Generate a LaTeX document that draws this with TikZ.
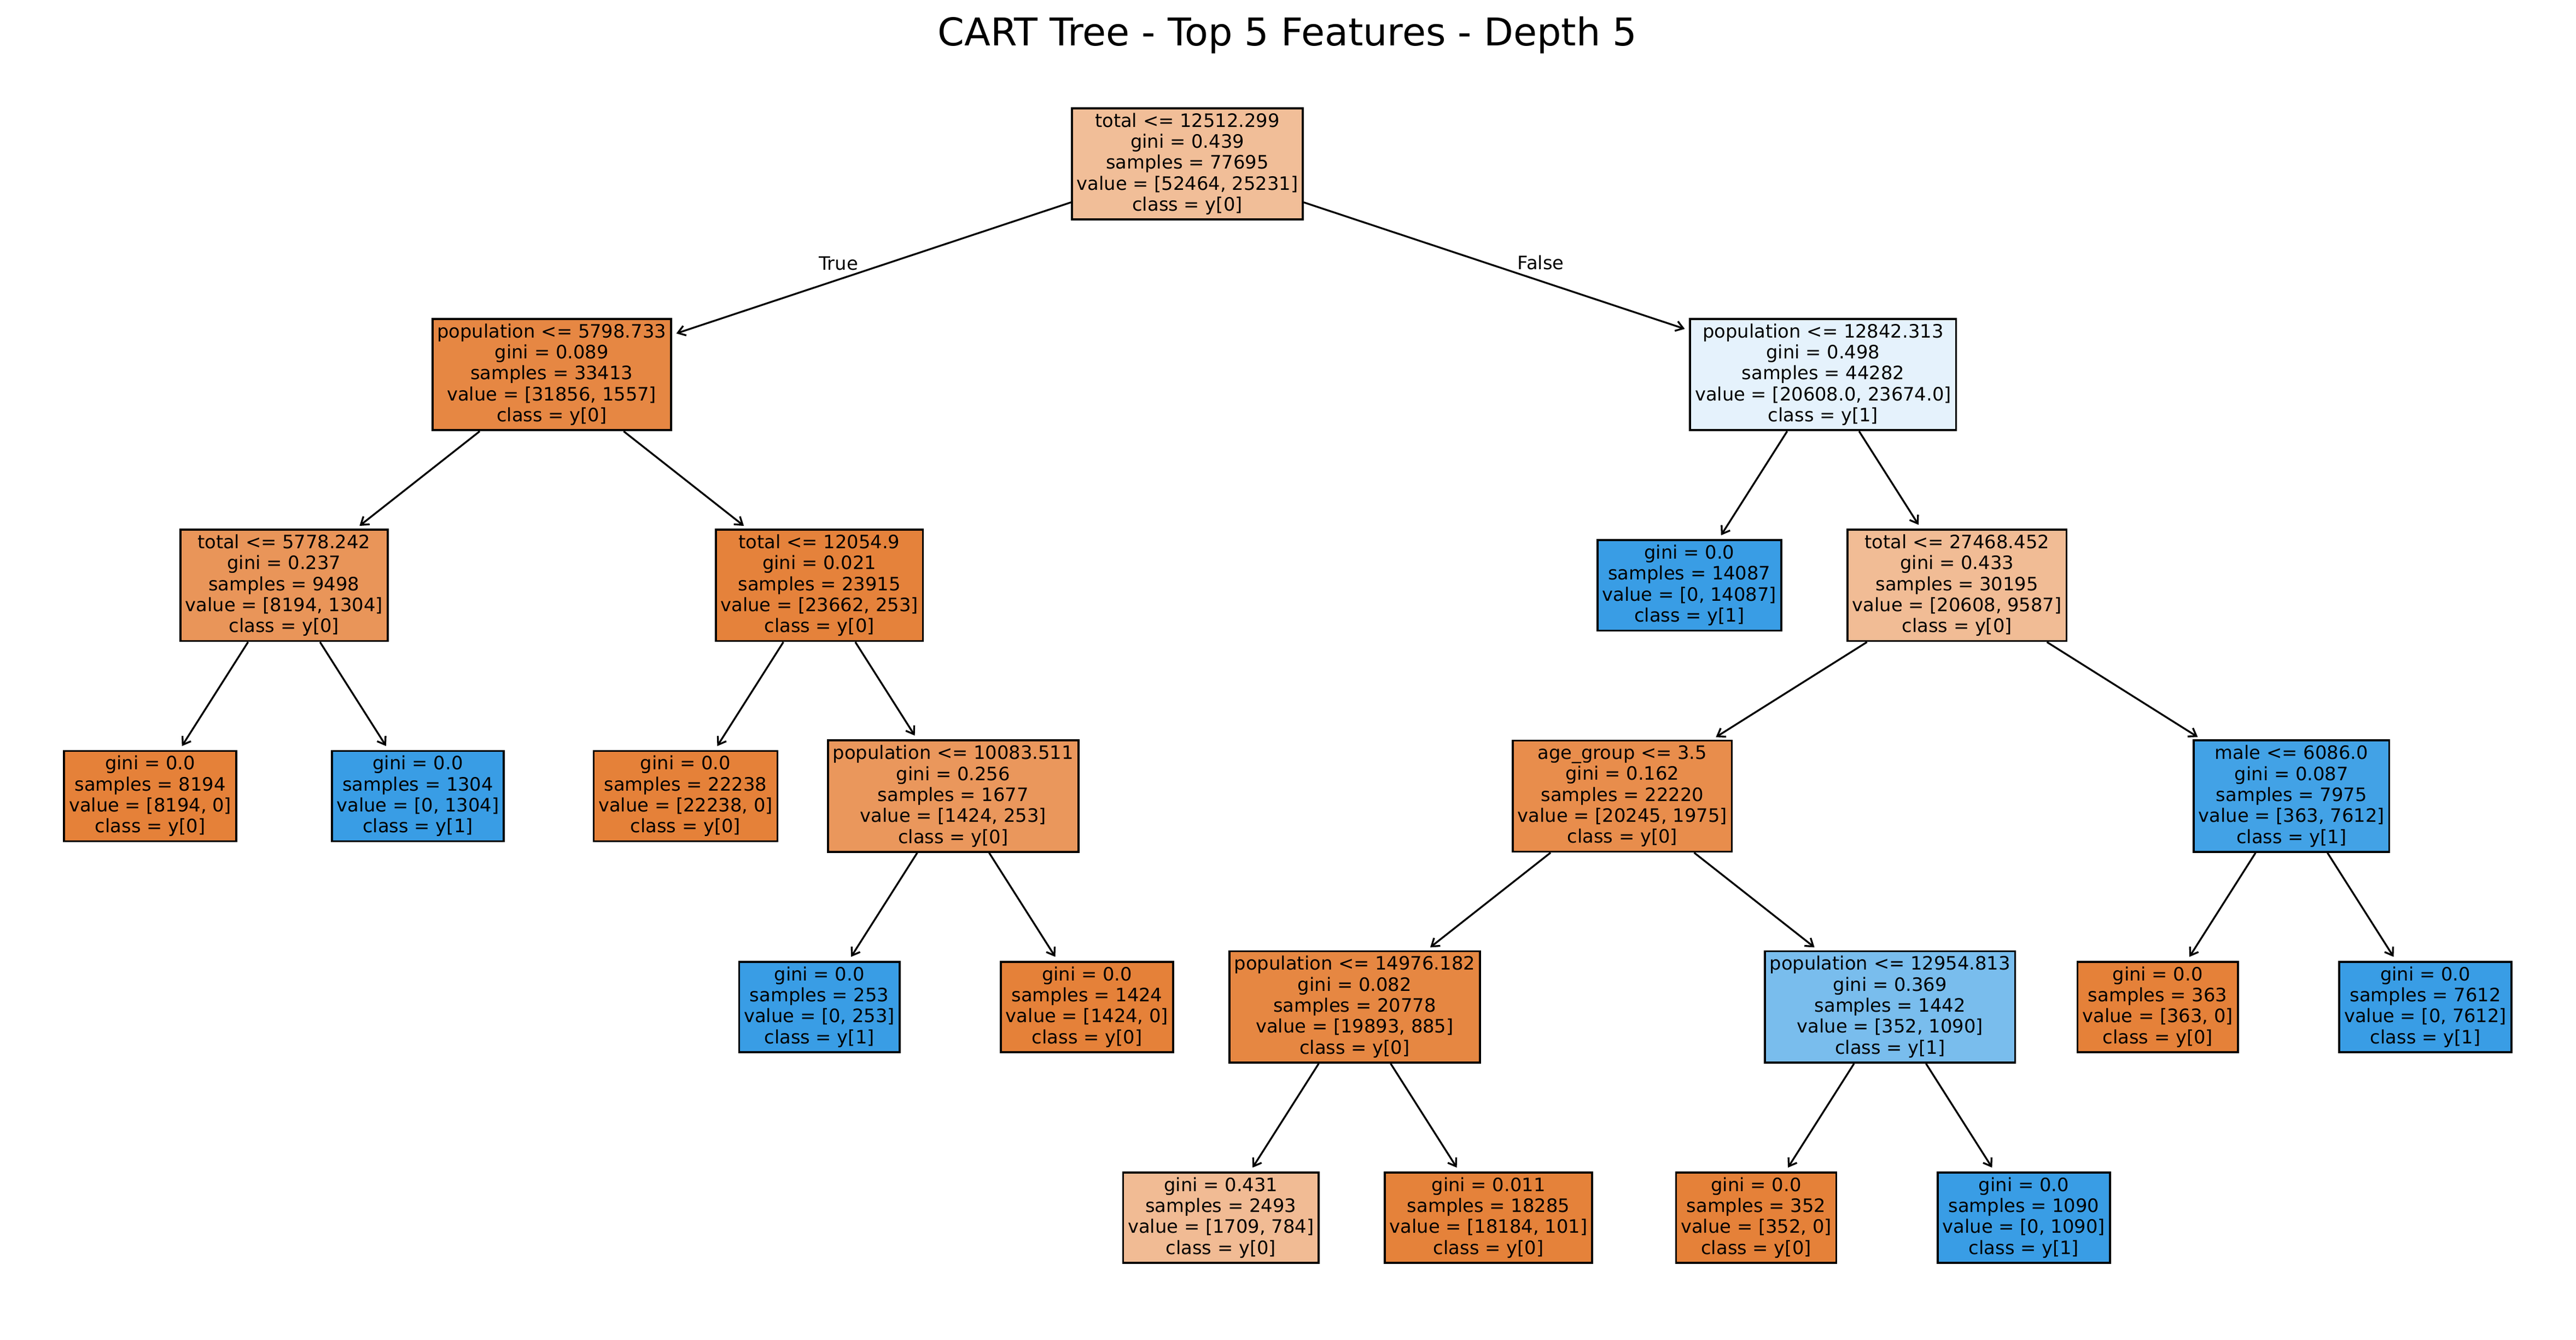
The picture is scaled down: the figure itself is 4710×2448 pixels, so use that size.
\documentclass[tikz,border=0pt]{standalone}
\usepackage{fontspec}
\setmainfont{DejaVu Sans}
\usetikzlibrary{arrows.meta}
\definecolor{cOr}{RGB}{229,129,57}
\definecolor{cBl}{RGB}{57,157,229}
\definecolor{cRoot}{RGB}{241,190,152}
\definecolor{cNa}{RGB}{230,135,67}
\definecolor{cNb}{RGB}{229,242,252}
\definecolor{cNc}{RGB}{233,149,89}
\definecolor{cNd}{RGB}{229,130,59}
\definecolor{cNf}{RGB}{241,188,149}
\definecolor{cNj}{RGB}{234,151,92}
\definecolor{cNk}{RGB}{232,141,76}
\definecolor{cNl}{RGB}{66,162,230}
\definecolor{cNo}{RGB}{230,135,66}
\definecolor{cNp}{RGB}{121,189,237}
\definecolor{cNs}{RGB}{241,187,148}
\definecolor{cNt}{RGB}{229,130,58}
\begin{document}
\begin{tikzpicture}[x=0.24pt,y=-0.24pt,
  tn/.style={draw=black, line width=0.9pt, rectangle, align=center,
    inner xsep=2.1pt, inner ysep=2.1pt, font=\fontsize{8.1}{9.2}\selectfont},
  edge/.style={line width=0.8pt, -{Straight Barb[length=3.2pt,width=4.4pt]}, shorten >=2pt},
  lbl/.style={font=\fontsize{8.1}{9.2}\selectfont, anchor=base, inner sep=0pt}]
\useasboundingbox (0,0) rectangle (4710,2448);
\node[anchor=base, inner sep=0pt, font=\fontsize{16.8}{20}\selectfont] (title) at (2354,83) {CART Tree - Top 5 Features - Depth 5};

\node[tn, fill=cRoot] (r) at (2171.0,299.4) {total <= 12512.299\\gini = 0.439\\samples = 77695\\value = [52464, 25231]\\class = y[0]};
\node[tn, fill=cNa] (n1) at (1008.7,684.6) {population <= 5798.733\\gini = 0.089\\samples = 33413\\value = [31856, 1557]\\class = y[0]};
\node[tn, fill=cNb] (n2) at (3333.4,684.6) {population <= 12842.313\\gini = 0.498\\samples = 44282\\value = [20608.0, 23674.0]\\class = y[1]};
\node[tn, fill=cNc] (n3) at (519.3,1069.8) {total <= 5778.242\\gini = 0.237\\samples = 9498\\value = [8194, 1304]\\class = y[0]};
\node[tn, fill=cNd] (n4) at (1498.1,1069.8) {total <= 12054.9\\gini = 0.021\\samples = 23915\\value = [23662, 253]\\class = y[0]};
\node[tn, fill=cBl] (n5) at (3088.7,1069.8) {gini = 0.0\\samples = 14087\\value = [0, 14087]\\class = y[1]};
\node[tn, fill=cNf] (n6) at (3578.1,1069.8) {total <= 27468.452\\gini = 0.433\\samples = 30195\\value = [20608, 9587]\\class = y[0]};
\node[tn, fill=cOr] (n7) at (274.6,1455) {gini = 0.0\\samples = 8194\\value = [8194, 0]\\class = y[0]};
\node[tn, fill=cBl] (n8) at (764.0,1455) {gini = 0.0\\samples = 1304\\value = [0, 1304]\\class = y[1]};
\node[tn, fill=cOr] (n9) at (1253.4,1455) {gini = 0.0\\samples = 22238\\value = [22238, 0]\\class = y[0]};
\node[tn, fill=cNj] (n10) at (1742.8,1455) {population <= 10083.511\\gini = 0.256\\samples = 1677\\value = [1424, 253]\\class = y[0]};
\node[tn, fill=cNk] (n11) at (2966.3,1455) {age\_group <= 3.5\\gini = 0.162\\samples = 22220\\value = [20245, 1975]\\class = y[0]};
\node[tn, fill=cNl] (n12) at (4189.8,1455) {male <= 6086.0\\gini = 0.087\\samples = 7975\\value = [363, 7612]\\class = y[1]};
\node[tn, fill=cBl] (n13) at (1498.1,1840.2) {gini = 0.0\\samples = 253\\value = [0, 253]\\class = y[1]};
\node[tn, fill=cOr] (n14) at (1987.5,1840.2) {gini = 0.0\\samples = 1424\\value = [1424, 0]\\class = y[0]};
\node[tn, fill=cNo] (n15) at (2476.9,1840.2) {population <= 14976.182\\gini = 0.082\\samples = 20778\\value = [19893, 885]\\class = y[0]};
\node[tn, fill=cNp] (n16) at (3455.7,1840.2) {population <= 12954.813\\gini = 0.369\\samples = 1442\\value = [352, 1090]\\class = y[1]};
\node[tn, fill=cOr] (n17) at (3945.1,1840.2) {gini = 0.0\\samples = 363\\value = [363, 0]\\class = y[0]};
\node[tn, fill=cBl] (n18) at (4434.5,1840.2) {gini = 0.0\\samples = 7612\\value = [0, 7612]\\class = y[1]};
\node[tn, fill=cNs] (n19) at (2232.2,2225.4) {gini = 0.431\\samples = 2493\\value = [1709, 784]\\class = y[0]};
\node[tn, fill=cNt] (n20) at (2721.6,2225.4) {gini = 0.011\\samples = 18285\\value = [18184, 101]\\class = y[0]};
\node[tn, fill=cOr] (n21) at (3211.0,2225.4) {gini = 0.0\\samples = 352\\value = [352, 0]\\class = y[0]};
\node[tn, fill=cBl] (n22) at (3700.4,2225.4) {gini = 0.0\\samples = 1090\\value = [0, 1090]\\class = y[1]};

\draw[edge] (r) -- (n1);
\draw[edge] (r) -- (n2);
\draw[edge] (n1) -- (n3);
\draw[edge] (n1) -- (n4);
\draw[edge] (n2) -- (n5);
\draw[edge] (n2) -- (n6);
\draw[edge] (n3) -- (n7);
\draw[edge] (n3) -- (n8);
\draw[edge] (n4) -- (n9);
\draw[edge] (n4) -- (n10);
\draw[edge] (n6) -- (n11);
\draw[edge] (n6) -- (n12);
\draw[edge] (n10) -- (n13);
\draw[edge] (n10) -- (n14);
\draw[edge] (n11) -- (n15);
\draw[edge] (n11) -- (n16);
\draw[edge] (n12) -- (n17);
\draw[edge] (n12) -- (n18);
\draw[edge] (n15) -- (n19);
\draw[edge] (n15) -- (n20);
\draw[edge] (n16) -- (n21);
\draw[edge] (n16) -- (n22);

\node[lbl] (ltrue) at (1533,493) {True};
\node[lbl] (lfalse) at (2817,492) {False};
\end{tikzpicture}
\end{document}
